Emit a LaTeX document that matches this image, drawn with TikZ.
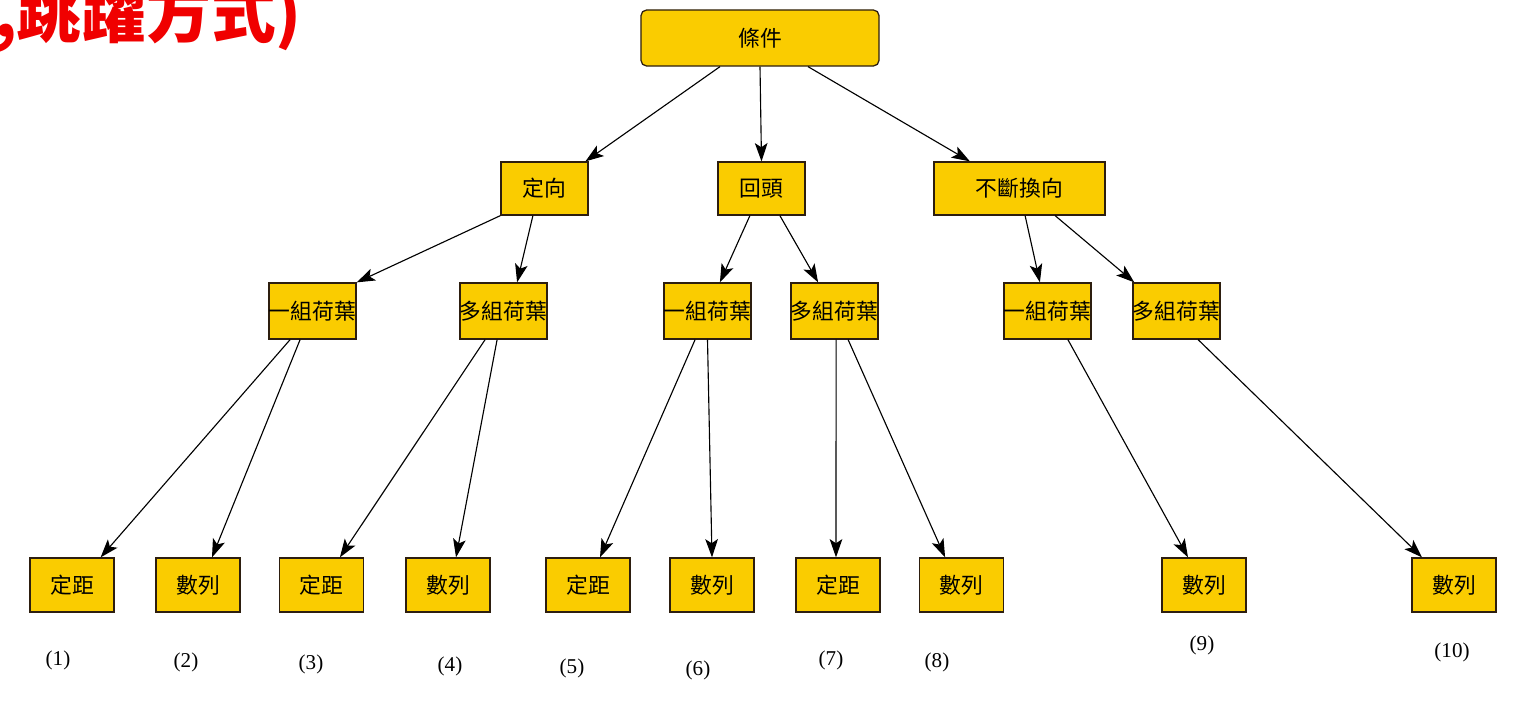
\documentclass[tikz,border=0pt]{standalone}
\usepackage{fontspec}
\setmainfont{Liberation Serif}
\newfontfamily\cjk{Noto Sans CJK TC}
\usetikzlibrary{arrows.meta}
\definecolor{gold}{RGB}{250,204,0}
\definecolor{edgeb}{RGB}{45,30,15}
\definecolor{titlered}{RGB}{240,0,0}
\tikzset{
  box/.style={draw=edgeb, line width=0.9pt, fill=gold, inner sep=0pt, font=\cjk\fontsize{15.5}{15.5}\selectfont},
  lvtop/.style={box, rounded corners=4pt, minimum width=5.95cm, minimum height=1.4cm},
  lvtwo/.style={box, minimum height=1.325cm},
  lvthree/.style={box, minimum width=2.175cm, minimum height=1.4cm},
  lvfour/.style={box, minimum width=2.1cm, minimum height=1.35cm},
  conn/.style={line width=0.8pt, -{Stealth[length=13pt,width=9pt,inset=3pt]}},
  numlab/.style={font=\fontsize{15}{15}\selectfont, inner sep=0pt}
}
\begin{document}
\begin{tikzpicture}[x=0.025cm, y=-0.025cm]
\useasboundingbox (0,0) rectangle (1520,702);
\clip (0,0) rectangle (1520,702);
\fill[white] (0,0) rectangle (1520,702);
\node[anchor=base west, inner sep=0pt, text=titlered, font=\cjk\bfseries\fontsize{46}{46}\selectfont] (title) at (-6,38) {,跳躍方式)};

\node[lvtop] (top) at (760,38) {條件};
\node[lvtwo, minimum width=2.175cm] (d1) at (544.5,188.5) {定向};
\node[lvtwo, minimum width=2.175cm] (d2) at (761.5,188.5) {回頭};
\node[lvtwo, minimum width=4.275cm] (d3) at (1019.5,188.5) {不斷換向};

\node[lvthree] (a1) at (312.5,311) {一組荷葉};
\node[lvthree] (a2) at (503.5,311) {多組荷葉};
\node[lvthree] (a3) at (707.5,311) {一組荷葉};
\node[lvthree] (a4) at (834.5,311) {多組荷葉};
\node[lvthree] (a5) at (1047.5,311) {一組荷葉};
\node[lvthree] (a6) at (1176.5,311) {多組荷葉};

\node[lvfour] (b1) at (72,585) {定距};
\node[lvfour] (b2) at (198,585) {數列};
\node[lvfour] (b3) at (321.5,585) {定距};
\node[lvfour] (b4) at (448,585) {數列};
\node[lvfour] (b5) at (588,585) {定距};
\node[lvfour] (b6) at (712,585) {數列};
\node[lvfour] (b7) at (838,585) {定距};
\node[lvfour] (b8) at (961.5,585) {數列};
\node[lvfour] (b9) at (1204,585) {數列};
\node[lvfour] (b10) at (1454,585) {數列};

\node[numlab] (l1) at (58,660) {(1)};
\node[numlab] (l2) at (186,662) {(2)};
\node[numlab] (l3) at (311,664) {(3)};
\node[numlab] (l4) at (450,666) {(4)};
\node[numlab] (l5) at (572,668) {(5)};
\node[numlab] (l6) at (698,670) {(6)};
\node[numlab] (l7) at (831,660) {(7)};
\node[numlab] (l8) at (937,662) {(8)};
\node[numlab] (l9) at (1202,645) {(9)};
\node[numlab] (l10) at (1452,652) {(10)};

\draw[conn] ([xshift=-1.0cm]top.south) -- ([xshift=-0.08cm]d1.north east);
\draw[conn] (top.south) -- (d2.north);
\draw[conn] ([xshift=1.2cm]top.south) -- ([xshift=-1.24cm]d3.north);

\draw[conn] (d1.south west) -- (a1.north east);
\draw[conn] ([xshift=-0.29cm]d1.south) -- ([xshift=0.34cm]a2.north);
\draw[conn] ([xshift=-0.29cm]d2.south) -- ([xshift=0.31cm]a3.north);
\draw[conn] ([xshift=0.46cm]d2.south) -- ([xshift=-0.41cm]a4.north);
\draw[conn] ([xshift=0.14cm]d3.south) -- ([xshift=-0.19cm]a5.north);
\draw[conn] ([xshift=0.89cm]d3.south) -- ([xshift=0.05cm]a6.north west);

\draw[conn] ([xshift=-0.56cm]a1.south) -- ([xshift=-0.35cm]b1.north east);
\draw[conn] ([xshift=-0.31cm]a1.south) -- ([xshift=0.35cm]b2.north);
\draw[conn] ([xshift=-0.46cm]a2.south) -- ([xshift=0.46cm]b3.north);
\draw[conn] ([xshift=-0.16cm]a2.south) -- ([xshift=0.2cm]b4.north);
\draw[conn] ([xshift=-0.31cm]a3.south) -- ([xshift=0.3cm]b5.north);
\draw[conn] (a3.south) -- (b6.north);
\draw[conn] ([xshift=0.04cm]a4.south) -- ([xshift=-0.05cm]b7.north);
\draw[conn] ([xshift=0.34cm]a4.south) -- ([xshift=-0.41cm]b8.north);
\draw[conn] ([xshift=0.51cm]a5.south) -- ([xshift=-0.4cm]b9.north);
\draw[conn] ([xshift=0.54cm]a6.south) -- ([xshift=-0.8cm]b10.north);
\end{tikzpicture}
\end{document}
